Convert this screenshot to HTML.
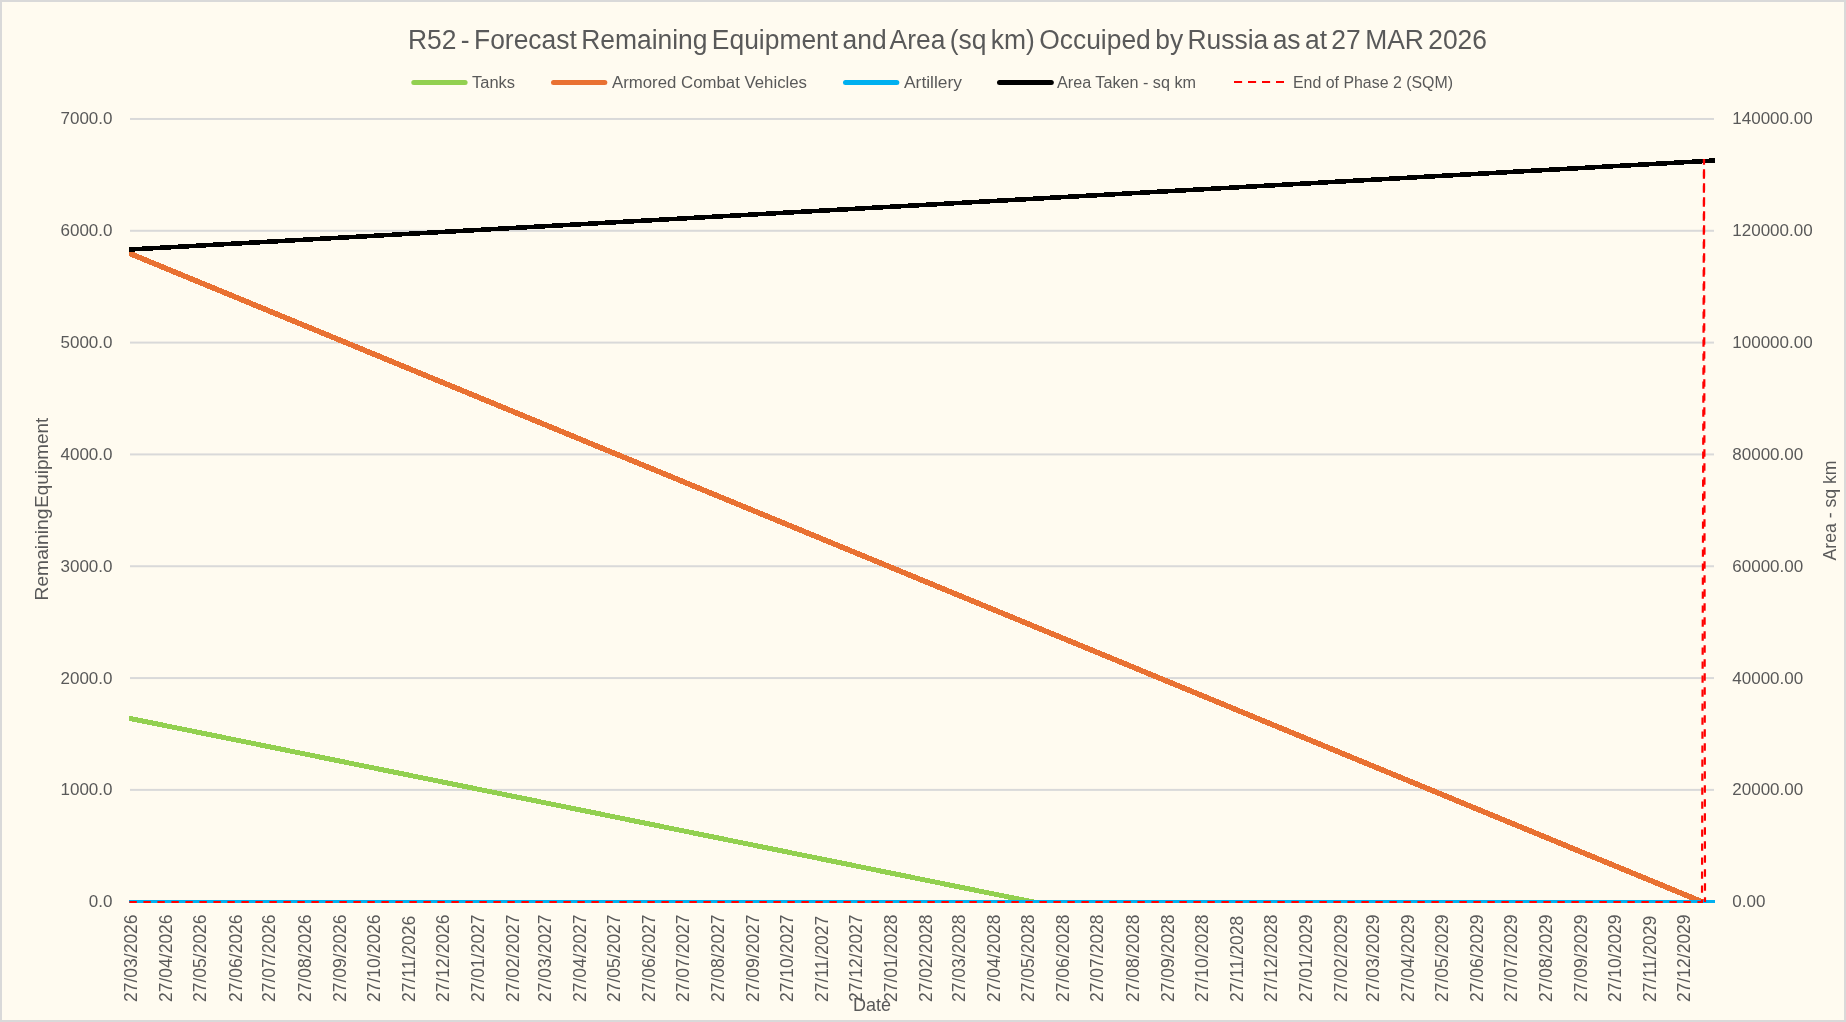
<!DOCTYPE html><html><head><meta charset="utf-8"><style>html,body{margin:0;padding:0;background:#FFFBF0;overflow:hidden}svg{display:block;will-change:transform}text{font-family:"Liberation Sans", sans-serif;fill:#595959}</style></head><body>
<svg width="1846" height="1022" viewBox="0 0 1846 1022">
<rect x="0" y="0" width="1846" height="1022" fill="#d9d9d9"/>
<rect x="2" y="2" width="1842" height="1018" fill="#FFFBF0"/>
<text x="408" y="49" font-size="27" word-spacing="-3" textLength="1079" lengthAdjust="spacingAndGlyphs">R52 - Forecast Remaining Equipment and Area (sq km) Occuiped by Russia as at 27 MAR 2026</text>
<line x1="413.8" y1="82.5" x2="465.1" y2="82.5" stroke="#92d050" stroke-width="5" stroke-linecap="round"/>
<text x="472" y="88" font-size="16" textLength="43" lengthAdjust="spacingAndGlyphs">Tanks</text>
<line x1="553.5" y1="82.5" x2="604.8" y2="82.5" stroke="#e97132" stroke-width="5" stroke-linecap="round"/>
<text x="612" y="88" font-size="16" textLength="195" lengthAdjust="spacingAndGlyphs">Armored Combat Vehicles</text>
<line x1="845.5" y1="82.5" x2="896.8" y2="82.5" stroke="#00b0f0" stroke-width="5" stroke-linecap="round"/>
<text x="904" y="88" font-size="16" textLength="58" lengthAdjust="spacingAndGlyphs">Artillery</text>
<line x1="999.5" y1="82.5" x2="1051.3" y2="82.5" stroke="#000000" stroke-width="5" stroke-linecap="round"/>
<text x="1057" y="88" font-size="16" textLength="139" lengthAdjust="spacingAndGlyphs">Area Taken - sq km</text>
<line x1="1234" y1="82" x2="1284" y2="82" stroke="#ff0000" stroke-width="2" stroke-dasharray="8.1 5.9"/>
<text x="1293" y="88" font-size="16" textLength="160" lengthAdjust="spacingAndGlyphs">End of Phase 2 (SQM)</text>
<rect x="130" y="900.70" width="1584" height="2" fill="#d9d9d9"/>
<text x="112.5" y="907.20" font-size="17" text-anchor="end">0.0</text>
<text x="1732.3" y="907.20" font-size="17">0.00</text>
<rect x="130" y="788.88" width="1584" height="2" fill="#d9d9d9"/>
<text x="112.5" y="795.38" font-size="17" text-anchor="end">1000.0</text>
<text x="1732.3" y="795.38" font-size="17">20000.00</text>
<rect x="130" y="677.06" width="1584" height="2" fill="#d9d9d9"/>
<text x="112.5" y="683.56" font-size="17" text-anchor="end">2000.0</text>
<text x="1732.3" y="683.56" font-size="17">40000.00</text>
<rect x="130" y="565.24" width="1584" height="2" fill="#d9d9d9"/>
<text x="112.5" y="571.74" font-size="17" text-anchor="end">3000.0</text>
<text x="1732.3" y="571.74" font-size="17">60000.00</text>
<rect x="130" y="453.42" width="1584" height="2" fill="#d9d9d9"/>
<text x="112.5" y="459.92" font-size="17" text-anchor="end">4000.0</text>
<text x="1732.3" y="459.92" font-size="17">80000.00</text>
<rect x="130" y="341.60" width="1584" height="2" fill="#d9d9d9"/>
<text x="112.5" y="348.10" font-size="17" text-anchor="end">5000.0</text>
<text x="1732.3" y="348.10" font-size="17">100000.00</text>
<rect x="130" y="229.78" width="1584" height="2" fill="#d9d9d9"/>
<text x="112.5" y="236.28" font-size="17" text-anchor="end">6000.0</text>
<text x="1732.3" y="236.28" font-size="17">120000.00</text>
<rect x="130" y="117.96" width="1584" height="2" fill="#d9d9d9"/>
<text x="112.5" y="124.46" font-size="17" text-anchor="end">7000.0</text>
<text x="1732.3" y="124.46" font-size="17">140000.00</text>
<text transform="translate(48.3,600.5) rotate(-90)" font-size="18.2" textLength="92" lengthAdjust="spacingAndGlyphs">Remaining</text>
<text transform="translate(48.3,507.8) rotate(-90)" font-size="18.2" textLength="90" lengthAdjust="spacingAndGlyphs">Equipment</text>
<text transform="translate(1836,510.5) rotate(-90)" font-size="18.5" text-anchor="middle" textLength="100" lengthAdjust="spacingAndGlyphs">Area - sq km</text>
<text x="853" y="1011" font-size="18.5" textLength="38" lengthAdjust="spacingAndGlyphs">Date</text>
<text transform="translate(137.30,1002) rotate(-90)" font-size="17.5">27/03/2026</text>
<text transform="translate(172.41,1002) rotate(-90)" font-size="17.5">27/04/2026</text>
<text transform="translate(206.39,1002) rotate(-90)" font-size="17.5">27/05/2026</text>
<text transform="translate(241.50,1002) rotate(-90)" font-size="17.5">27/06/2026</text>
<text transform="translate(275.48,1002) rotate(-90)" font-size="17.5">27/07/2026</text>
<text transform="translate(310.59,1002) rotate(-90)" font-size="17.5">27/08/2026</text>
<text transform="translate(345.70,1002) rotate(-90)" font-size="17.5">27/09/2026</text>
<text transform="translate(379.68,1002) rotate(-90)" font-size="17.5">27/10/2026</text>
<text transform="translate(414.79,1002) rotate(-90)" font-size="17.5">27/11/2026</text>
<text transform="translate(448.77,1002) rotate(-90)" font-size="17.5">27/12/2026</text>
<text transform="translate(483.88,1002) rotate(-90)" font-size="17.5">27/01/2027</text>
<text transform="translate(518.99,1002) rotate(-90)" font-size="17.5">27/02/2027</text>
<text transform="translate(550.70,1002) rotate(-90)" font-size="17.5">27/03/2027</text>
<text transform="translate(585.81,1002) rotate(-90)" font-size="17.5">27/04/2027</text>
<text transform="translate(619.79,1002) rotate(-90)" font-size="17.5">27/05/2027</text>
<text transform="translate(654.90,1002) rotate(-90)" font-size="17.5">27/06/2027</text>
<text transform="translate(688.88,1002) rotate(-90)" font-size="17.5">27/07/2027</text>
<text transform="translate(723.99,1002) rotate(-90)" font-size="17.5">27/08/2027</text>
<text transform="translate(759.10,1002) rotate(-90)" font-size="17.5">27/09/2027</text>
<text transform="translate(793.08,1002) rotate(-90)" font-size="17.5">27/10/2027</text>
<text transform="translate(828.19,1002) rotate(-90)" font-size="17.5">27/11/2027</text>
<text transform="translate(862.16,1002) rotate(-90)" font-size="17.5">27/12/2027</text>
<text transform="translate(897.27,1002) rotate(-90)" font-size="17.5">27/01/2028</text>
<text transform="translate(932.39,1002) rotate(-90)" font-size="17.5">27/02/2028</text>
<text transform="translate(965.23,1002) rotate(-90)" font-size="17.5">27/03/2028</text>
<text transform="translate(1000.34,1002) rotate(-90)" font-size="17.5">27/04/2028</text>
<text transform="translate(1034.32,1002) rotate(-90)" font-size="17.5">27/05/2028</text>
<text transform="translate(1069.43,1002) rotate(-90)" font-size="17.5">27/06/2028</text>
<text transform="translate(1103.41,1002) rotate(-90)" font-size="17.5">27/07/2028</text>
<text transform="translate(1138.52,1002) rotate(-90)" font-size="17.5">27/08/2028</text>
<text transform="translate(1173.63,1002) rotate(-90)" font-size="17.5">27/09/2028</text>
<text transform="translate(1207.61,1002) rotate(-90)" font-size="17.5">27/10/2028</text>
<text transform="translate(1242.72,1002) rotate(-90)" font-size="17.5">27/11/2028</text>
<text transform="translate(1276.70,1002) rotate(-90)" font-size="17.5">27/12/2028</text>
<text transform="translate(1311.81,1002) rotate(-90)" font-size="17.5">27/01/2029</text>
<text transform="translate(1346.92,1002) rotate(-90)" font-size="17.5">27/02/2029</text>
<text transform="translate(1378.63,1002) rotate(-90)" font-size="17.5">27/03/2029</text>
<text transform="translate(1413.74,1002) rotate(-90)" font-size="17.5">27/04/2029</text>
<text transform="translate(1447.72,1002) rotate(-90)" font-size="17.5">27/05/2029</text>
<text transform="translate(1482.83,1002) rotate(-90)" font-size="17.5">27/06/2029</text>
<text transform="translate(1516.81,1002) rotate(-90)" font-size="17.5">27/07/2029</text>
<text transform="translate(1551.92,1002) rotate(-90)" font-size="17.5">27/08/2029</text>
<text transform="translate(1587.03,1002) rotate(-90)" font-size="17.5">27/09/2029</text>
<text transform="translate(1621.01,1002) rotate(-90)" font-size="17.5">27/10/2029</text>
<text transform="translate(1656.12,1002) rotate(-90)" font-size="17.5">27/11/2029</text>
<text transform="translate(1690.09,1002) rotate(-90)" font-size="17.5">27/12/2029</text>
<defs><clipPath id="pc"><rect x="129" y="100" width="1586" height="803"/></clipPath></defs><g clip-path="url(#pc)">
<line x1="119.5" y1="716.32" x2="1033.3" y2="902" stroke="#92d050" stroke-width="5" shape-rendering="crispEdges"/>
<line x1="119.5" y1="249.28" x2="1702.6" y2="902" stroke="#e97132" stroke-width="5.5" shape-rendering="crispEdges"/>
</g>
<rect x="129" y="900" width="1586" height="3" fill="#00b0f0"/>
<line x1="129" y1="249.56" x2="1714.8" y2="160.5" stroke="#000000" stroke-width="4.6" shape-rendering="crispEdges"/>
<line x1="129.4" y1="902" x2="1703" y2="902" stroke="#ff0000" stroke-width="2" stroke-dasharray="7.4 6.6"/>
<line x1="1704" y1="159" x2="1705" y2="902" stroke="#ff0000" stroke-width="2.2" stroke-dasharray="7.4 6.6" stroke-dashoffset="3.7"/>
<line x1="1704" y1="159" x2="1702" y2="902" stroke="#ff0000" stroke-width="2.2" stroke-dasharray="7.4 6.6" stroke-dashoffset="1.6"/>
</svg></body></html>
